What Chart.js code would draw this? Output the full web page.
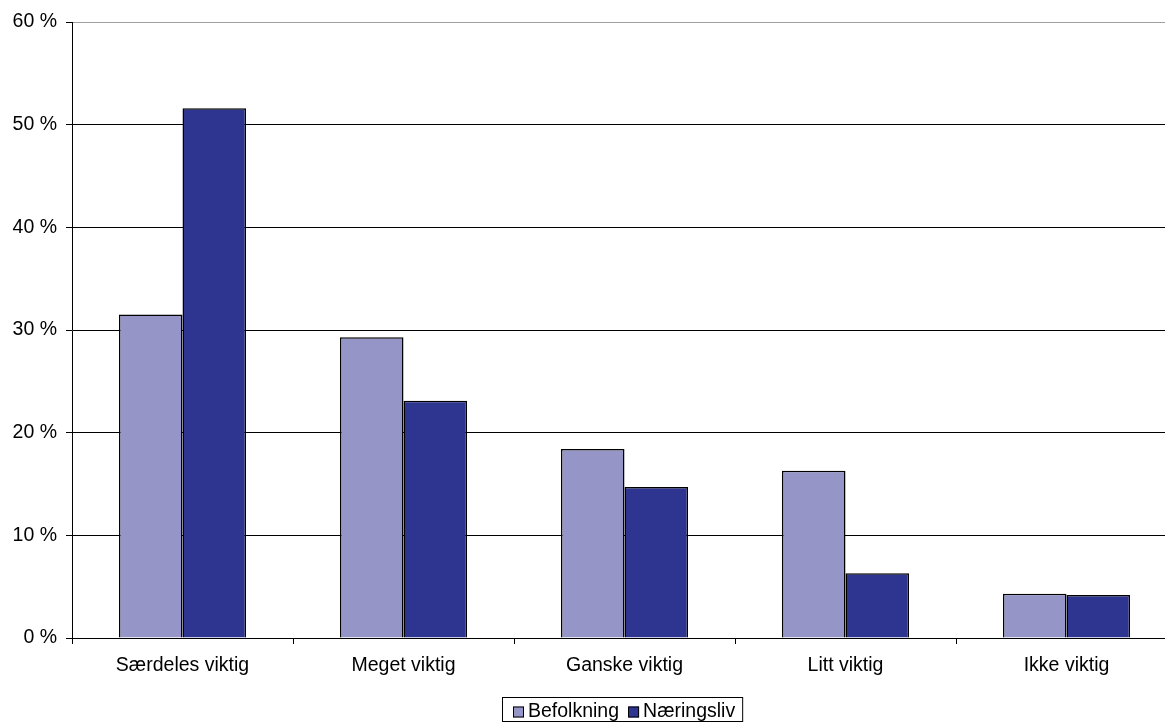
<!DOCTYPE html>
<html>
<head>
<meta charset="utf-8">
<script src="https://cdn.jsdelivr.net/npm/chart.js@4"></script>
<style>
  html, body { margin: 0; padding: 0; background: #fff; overflow: hidden; }
  #wrap { width: 1165px; height: 722px; overflow: hidden; }
</style>
</head>
<body>
<div id="wrap"><canvas id="chart" width="1177" height="722"></canvas></div>
<script>
const categories = ['Særdeles viktig', 'Meget viktig', 'Ganske viktig', 'Litt viktig', 'Ikke viktig'];
const befolkning = [31.5, 29.3, 18.4, 16.3, 4.3];
const naeringsliv = [51.6, 23.1, 14.7, 6.3, 4.2];
const yTicks = [0, 10, 20, 30, 40, 50, 60];

const FONT = '"Liberation Sans", Arial, sans-serif';

// legend drawn by hand so it matches the boxed legend of the original
const boxLegend = {
  id: 'boxLegend',
  afterDraw(chart) {
    const ctx = chart.ctx;
    const items = chart.data.datasets.map(ds => ({ label: ds.label, color: ds.backgroundColor }));
    ctx.save();
    ctx.font = '19.5px ' + FONT;
    const box = 11, gap = 4, itemGap = 9;
    let total = 0;
    items.forEach((it, i) => {
      total += box + gap + ctx.measureText(it.label).width + (i < items.length - 1 ? itemGap : 0);
    });
    const left = 502.5, top = 697.5;
    const width = total + 18;
    ctx.strokeStyle = '#000';
    ctx.lineWidth = 1;
    ctx.strokeRect(left, top, width, 24);
    let x = left + 10.5;
    const cy = 712;
    ctx.textBaseline = 'middle';
    items.forEach(it => {
      ctx.fillStyle = it.color;
      ctx.fillRect(x, cy - 5.5, box, box);
      ctx.strokeRect(x + 0.5, cy - 5, box - 1, box - 1);
      x += box + gap;
      ctx.fillStyle = '#000';
      ctx.fillText(it.label, x, cy);
      x += ctx.measureText(it.label).width + itemGap;
    });
    ctx.restore();
  }
};

new Chart(document.getElementById('chart'), {
  type: 'bar',
  data: {
    labels: categories,
    datasets: [
      { label: 'Befolkning', data: befolkning, backgroundColor: '#9595c7', borderColor: '#000', borderWidth: 1.5 },
      { label: 'Næringsliv', data: naeringsliv, backgroundColor: '#2e3590', borderColor: '#000', borderWidth: 1.5 }
    ]
  },
  options: {
    responsive: false,
    animation: false,
    layout: { padding: { top: 22, right: 0, bottom: 32, left: 0 } },
    categoryPercentage: 0.575,
    barPercentage: 1,
    plugins: {
      legend: { display: false },
      tooltip: { enabled: false }
    },
    scales: {
      x: {
        grid: { drawOnChartArea: false, offset: true, tickLength: 6, color: '#000' },
        border: { color: '#000', width: 1 },
        ticks: { color: '#000', font: { family: FONT, size: 19.5 }, padding: 10, maxRotation: 0 },
        afterFit(scale) { scale.height = 52; }
      },
      y: {
        min: 0,
        max: 60,
        afterBuildTicks(scale) { scale.ticks = yTicks.map(v => ({ value: v })); },
        grid: {
          color: ctx => (ctx.tick && ctx.tick.value === 60 ? '#a0a0a0' : '#000'),
          tickColor: '#000',
          tickLength: 6
        },
        border: { color: '#000', width: 1 },
        ticks: {
          color: '#000',
          font: { family: FONT, size: 19.5 },
          padding: 9,
          callback: v => v + ' %'
        },
        afterFit(scale) { scale.width = 72; }
      }
    }
  },
  plugins: [boxLegend]
});
</script>
</body>
</html>
